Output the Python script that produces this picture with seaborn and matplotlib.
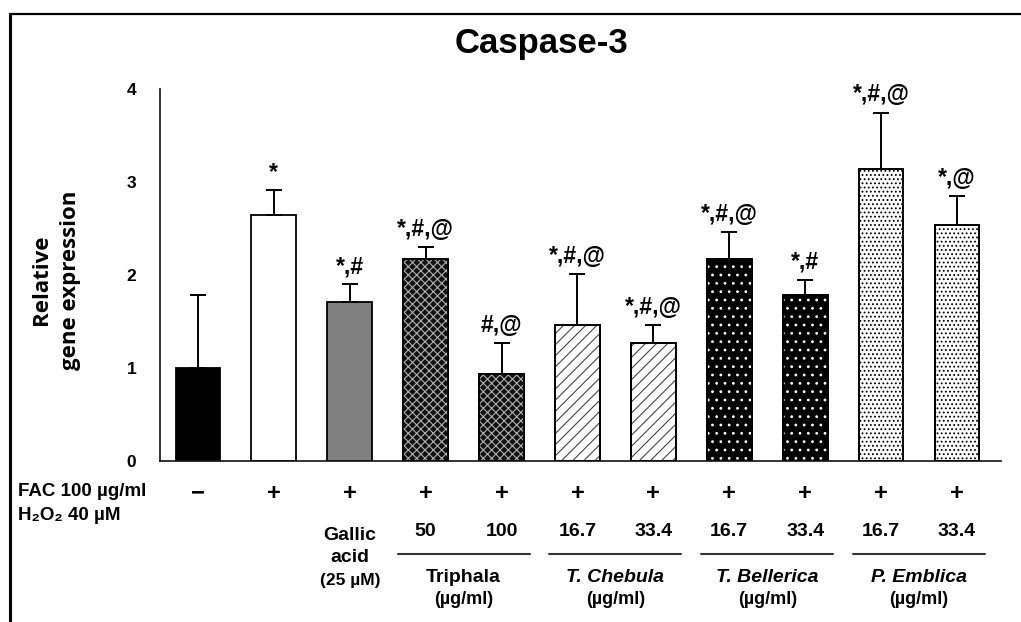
import numpy as np
import pandas as pd
import matplotlib
matplotlib.use("Agg")
import matplotlib.pyplot as plt
import seaborn as sns
from matplotlib.patches import Rectangle
from matplotlib.lines import Line2D
from matplotlib.transforms import blended_transform_factory

# Relative Caspase-3 expression per treatment
conditions = ["Control", "FAC", "Gallic acid", "Triphala 50", "Triphala 100",
              "T. Chebula 16.7", "T. Chebula 33.4", "T. Bellerica 16.7",
              "T. Bellerica 33.4", "P. Emblica 16.7", "P. Emblica 33.4"]
expression = [1.00, 2.65, 1.71, 2.17, 0.94, 1.46, 1.27, 2.17, 1.79, 3.14, 2.54]
error_up = [0.79, 0.27, 0.19, 0.13, 0.33, 0.55, 0.19, 0.29, 0.16, 0.61, 0.31]
significance = ["", "*", "*,#", "*,#,@", "#,@", "*,#,@", "*,#,@",
                "*,#,@", "*,#", "*,#,@", "*,@"]

# Treatment table under the bars
fac_h2o2 = ["\u2212", "+", "+", "+", "+", "+", "+", "+", "+", "+", "+"]
doses = ["", "", "", "50", "100", "16.7", "33.4", "16.7", "33.4", "16.7", "33.4"]
gallic_label = ["Gallic", "acid", "(25 \u00b5M)"]
extract_names = ["Triphala", "T. Chebula", "T. Bellerica", "P. Emblica"]
extract_italic = [False, True, True, True]
extract_bars = [(3, 4), (5, 6), (7, 8), (9, 10)]
y_ticks = [0, 1, 2, 3, 4]

# Bar fills and hatch patterns
fills = ["#000000", "#ffffff", "#808080", "#111111", "#111111", "#ffffff",
         "#ffffff", "#000000", "#000000", "#ffffff", "#ffffff"]
hatches = [None, None, None, "xxxx", "xxxx", "///", "///", "..", "..",
           "....", "...."]
hatch_colors = [None, None, None, "#b0b0b0", "#b0b0b0", "#444444", "#444444",
                "#ffffff", "#ffffff", "#000000", "#000000"]

sns.set_theme(style="white")
plt.rcParams["font.family"] = ["Liberation Sans", "DejaVu Sans"]
plt.rcParams["hatch.linewidth"] = 0.8
plt.rcParams["text.color"] = "black"
plt.rcParams["ytick.color"] = "black"
plt.rcParams["axes.labelcolor"] = "black"

W, H = 1021, 622
fig = plt.figure(figsize=(W / 100, H / 100), dpi=100)
ax = fig.add_axes([160 / W, 1 - 461 / H, (1001 - 160) / W, (461 - 89.3) / H])

df = pd.DataFrame({"condition": conditions, "expression": expression})
sns.barplot(data=df, x="condition", y="expression", hue="condition",
            order=conditions, hue_order=conditions,
            palette=dict(zip(conditions, fills)), saturation=1,
            width=0.59, errorbar=None, legend=False, ax=ax,
            edgecolor="black", linewidth=1.3)

# hatch overlays drawn on top of each bar's fill, then a crisp outline
for patch, hatch, hcol in zip(ax.patches[:len(conditions)], hatches, hatch_colors):
    if hatch is None:
        continue
    x0, y0 = patch.get_x(), patch.get_y()
    w, h = patch.get_width(), patch.get_height()
    ax.add_patch(Rectangle((x0, y0), w, h, facecolor="none", edgecolor=hcol,
                           hatch=hatch, linewidth=0, zorder=patch.zorder + 0.1))
    ax.add_patch(Rectangle((x0, y0), w, h, facecolor="none", edgecolor="black",
                           linewidth=1.3, zorder=patch.zorder + 0.2))

xpos = np.arange(len(conditions))
ax.errorbar(xpos, expression, yerr=[np.zeros(len(conditions)), error_up],
            fmt="none", ecolor="black", elinewidth=1.4, capsize=5.5,
            capthick=1.4, zorder=3)

for i, lab in enumerate(significance):
    if lab:
        ax.annotate(lab, (xpos[i], expression[i] + error_up[i]),
                    xytext=(0, 8), textcoords="offset points",
                    ha="center", va="baseline", fontsize=16.5,
                    fontweight="bold", color="black")

ax.set_ylim(0, 4)
ax.set_xlim(-0.5, 10.58)
ax.set_yticks(y_ticks)
ax.set_yticklabels([str(t) for t in y_ticks], fontsize=12.5, fontweight="bold")
ax.tick_params(axis="y", length=0, pad=17)
ax.set_xticks([])
ax.set_xlabel("")
ax.set_ylabel("")
for side in ("top", "right"):
    ax.spines[side].set_visible(False)
for side in ("left", "bottom"):
    ax.spines[side].set_color("#111111")
    ax.spines[side].set_linewidth(1.2)

def fy(p):
    return 1 - p / H

fig.text(541 / W, fy(43), "Caspase-3", ha="center", va="center",
         fontsize=25, fontweight="bold")
fig.text(56 / W, fy(280), "Relative\ngene expression", rotation=90,
         ha="center", va="center", fontsize=16, fontweight="bold",
         family=["Open Sans", "DejaVu Sans"], linespacing=1.55)

# frame lines along top and left
fig.add_artist(Line2D([10 / W, 1], [fy(14), fy(14)], transform=fig.transFigure,
                      color="black", lw=1.6))
fig.add_artist(Line2D([10 / W, 10 / W], [0, fy(14)], transform=fig.transFigure,
                      color="black", lw=2.2))

T = blended_transform_factory(ax.transData, fig.transFigure)
fig.text(18 / W, fy(491), "FAC 100 \u00b5g/ml", ha="left", va="center",
         fontsize=13.5, fontweight="bold")
fig.text(18 / W, fy(516), "H\u2082O\u2082 40 \u00b5M", ha="left", va="center",
         fontsize=13.5, fontweight="bold")

for i, s in enumerate(fac_h2o2):
    ax.text(xpos[i], fy(493), s, transform=T, ha="center", va="center",
            fontsize=17, fontweight="bold")
for i, d in enumerate(doses):
    if d:
        ax.text(xpos[i], fy(532), d, transform=T, ha="center", va="center",
                fontsize=14, fontweight="bold")

for line_y, txt, fs in zip([535, 557, 580], gallic_label, [14, 14, 12.5]):
    ax.text(xpos[2], fy(line_y), txt, transform=T, ha="center", va="center",
            fontsize=fs, fontweight="bold")

for name, italic, (a, b) in zip(extract_names, extract_italic, extract_bars):
    fig.add_artist(Line2D([xpos[a] - 0.37, xpos[b] + 0.37], [fy(554), fy(554)],
                          transform=T, color="#333333", lw=1.5))
    mid = (xpos[a] + xpos[b]) / 2
    ax.text(mid, fy(577), name, transform=T, ha="center", va="center",
            fontsize=14, fontweight="bold",
            fontstyle="italic" if italic else "normal")
    ax.text(mid, fy(599), "(\u00b5g/ml)", transform=T, ha="center",
            va="center", fontsize=13, fontweight="bold")

fig.savefig("out.png", dpi=100, facecolor="white")
